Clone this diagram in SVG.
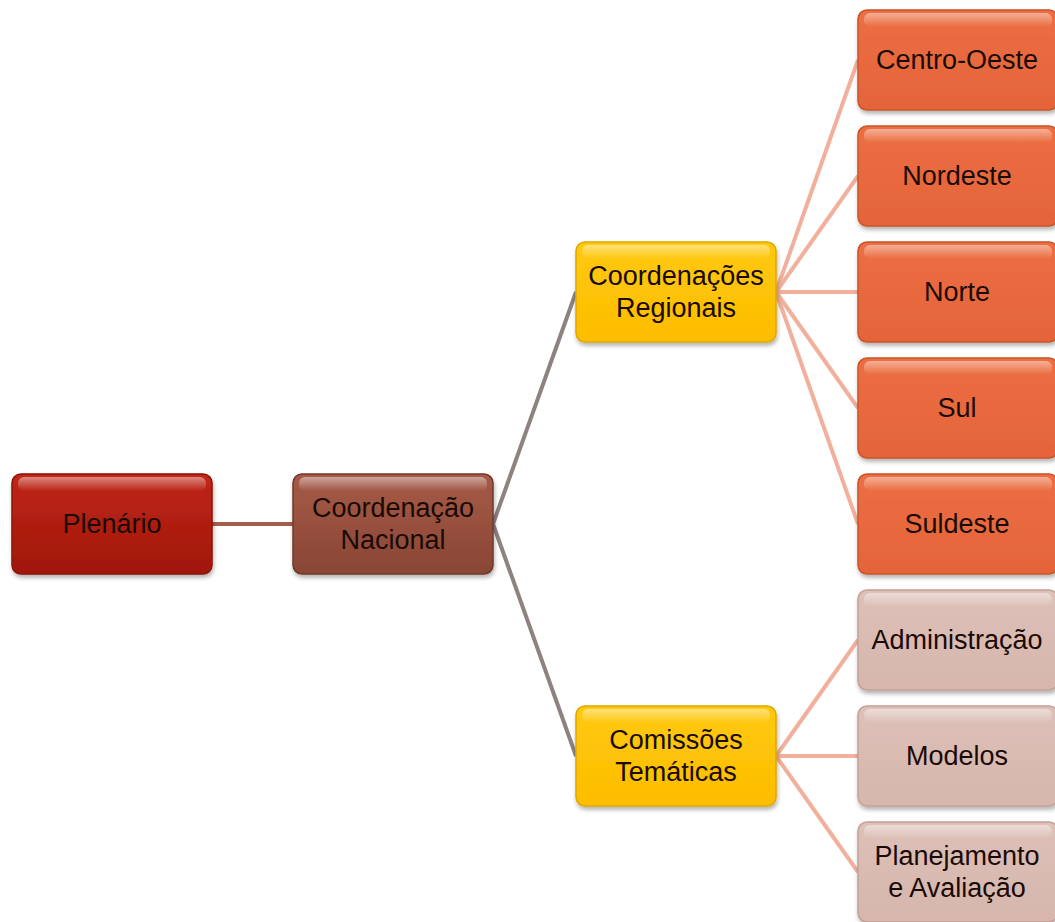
<svg xmlns="http://www.w3.org/2000/svg" width="1055" height="922" viewBox="0 0 1055 922">
<defs>
<linearGradient id="gRed" x1="0" y1="0" x2="0" y2="1"><stop offset="0" stop-color="#c02616"/><stop offset="1" stop-color="#a0170c"/></linearGradient>
<linearGradient id="gBrown" x1="0" y1="0" x2="0" y2="1"><stop offset="0" stop-color="#a65a48"/><stop offset="1" stop-color="#894634"/></linearGradient>
<linearGradient id="gYellow" x1="0" y1="0" x2="0" y2="1"><stop offset="0" stop-color="#ffc90e"/><stop offset="1" stop-color="#fdbd00"/></linearGradient>
<linearGradient id="gOrange" x1="0" y1="0" x2="0" y2="1"><stop offset="0" stop-color="#ec6e42"/><stop offset="1" stop-color="#e4643a"/></linearGradient>
<linearGradient id="gPink" x1="0" y1="0" x2="0" y2="1"><stop offset="0" stop-color="#ddc0b8"/><stop offset="1" stop-color="#d6b6ad"/></linearGradient>
<linearGradient id="gHi" x1="0" y1="0" x2="0" y2="1"><stop offset="0" stop-color="#ffffff" stop-opacity="0.45"/><stop offset="1" stop-color="#ffffff" stop-opacity="0"/></linearGradient>
<filter id="sh" x="-10%" y="-10%" width="120%" height="130%"><feDropShadow dx="1" dy="3" stdDeviation="2" flood-color="#000" flood-opacity="0.3"/></filter>
</defs>
<style>
.box{stroke-width:1.5;filter:url(#sh)}
.hi{fill:url(#gHi)}
.t{font-family:"Liberation Sans",Arial,sans-serif;font-size:27px;fill:#1a0a05;text-anchor:middle}
.c1{stroke:#a45e4e;stroke-width:4;fill:none}
.c2{stroke:#8e8280;stroke-width:4;fill:none}
.c3{stroke:#f2b09c;stroke-width:4;fill:none}
</style>
<rect width="1055" height="922" fill="#ffffff"/>
<g id="connectors">
<line class="c1" x1="212" y1="524" x2="293" y2="524"/>
<line class="c2" x1="493" y1="524" x2="576" y2="292"/>
<line class="c2" x1="493" y1="524" x2="576" y2="756"/>
<line class="c3" x1="776" y1="292" x2="858" y2="60"/>
<line class="c3" x1="776" y1="292" x2="858" y2="176"/>
<line class="c3" x1="776" y1="292" x2="858" y2="292"/>
<line class="c3" x1="776" y1="292" x2="858" y2="408"/>
<line class="c3" x1="776" y1="292" x2="858" y2="524"/>
<line class="c3" x1="776" y1="756" x2="858" y2="640"/>
<line class="c3" x1="776" y1="756" x2="858" y2="756"/>
<line class="c3" x1="776" y1="756" x2="858" y2="872"/>
</g>
<g id="plenario"><rect class="box" x="12" y="474" width="200" height="100" rx="9" fill="url(#gRed)" stroke="#8a1408"/><rect class="hi" x="18" y="477" width="188" height="14" rx="6"/><text class="t" x="112" y="533">Plenário</text></g>
<g id="coord-nacional"><rect class="box" x="293" y="474" width="200" height="100" rx="9" fill="url(#gBrown)" stroke="#70382a"/><rect class="hi" x="299" y="477" width="188" height="14" rx="6"/><text class="t" x="393" y="517">Coordenação</text><text class="t" x="393" y="549">Nacional</text></g>
<g id="coord-regionais"><rect class="box" x="576" y="242" width="200" height="100" rx="9" fill="url(#gYellow)" stroke="#e0a800"/><rect class="hi" x="582" y="245" width="188" height="14" rx="6"/><text class="t" x="676" y="285">Coordenações</text><text class="t" x="676" y="317">Regionais</text></g>
<g id="comissoes"><rect class="box" x="576" y="706" width="200" height="100" rx="9" fill="url(#gYellow)" stroke="#e0a800"/><rect class="hi" x="582" y="709" width="188" height="14" rx="6"/><text class="t" x="676" y="749">Comissões</text><text class="t" x="676" y="781">Temáticas</text></g>
<g id="centro-oeste"><rect class="box" x="858" y="10" width="200" height="100" rx="9" fill="url(#gOrange)" stroke="#c85428"/><rect class="hi" x="864" y="13" width="188" height="14" rx="6"/><text class="t" x="957" y="69">Centro-Oeste</text></g>
<g id="nordeste"><rect class="box" x="858" y="126" width="200" height="100" rx="9" fill="url(#gOrange)" stroke="#c85428"/><rect class="hi" x="864" y="129" width="188" height="14" rx="6"/><text class="t" x="957" y="185">Nordeste</text></g>
<g id="norte"><rect class="box" x="858" y="242" width="200" height="100" rx="9" fill="url(#gOrange)" stroke="#c85428"/><rect class="hi" x="864" y="245" width="188" height="14" rx="6"/><text class="t" x="957" y="301">Norte</text></g>
<g id="sul"><rect class="box" x="858" y="358" width="200" height="100" rx="9" fill="url(#gOrange)" stroke="#c85428"/><rect class="hi" x="864" y="361" width="188" height="14" rx="6"/><text class="t" x="957" y="417">Sul</text></g>
<g id="suldeste"><rect class="box" x="858" y="474" width="200" height="100" rx="9" fill="url(#gOrange)" stroke="#c85428"/><rect class="hi" x="864" y="477" width="188" height="14" rx="6"/><text class="t" x="957" y="533">Suldeste</text></g>
<g id="administracao"><rect class="box" x="858" y="590" width="200" height="100" rx="9" fill="url(#gPink)" stroke="#c4a096"/><rect class="hi" x="864" y="593" width="188" height="14" rx="6"/><text class="t" x="957" y="649">Administração</text></g>
<g id="modelos"><rect class="box" x="858" y="706" width="200" height="100" rx="9" fill="url(#gPink)" stroke="#c4a096"/><rect class="hi" x="864" y="709" width="188" height="14" rx="6"/><text class="t" x="957" y="765">Modelos</text></g>
<g id="planejamento"><rect class="box" x="858" y="822" width="200" height="100" rx="9" fill="url(#gPink)" stroke="#c4a096"/><rect class="hi" x="864" y="825" width="188" height="14" rx="6"/><text class="t" x="957" y="865">Planejamento</text><text class="t" x="957" y="897">e Avaliação</text></g>
</svg>
